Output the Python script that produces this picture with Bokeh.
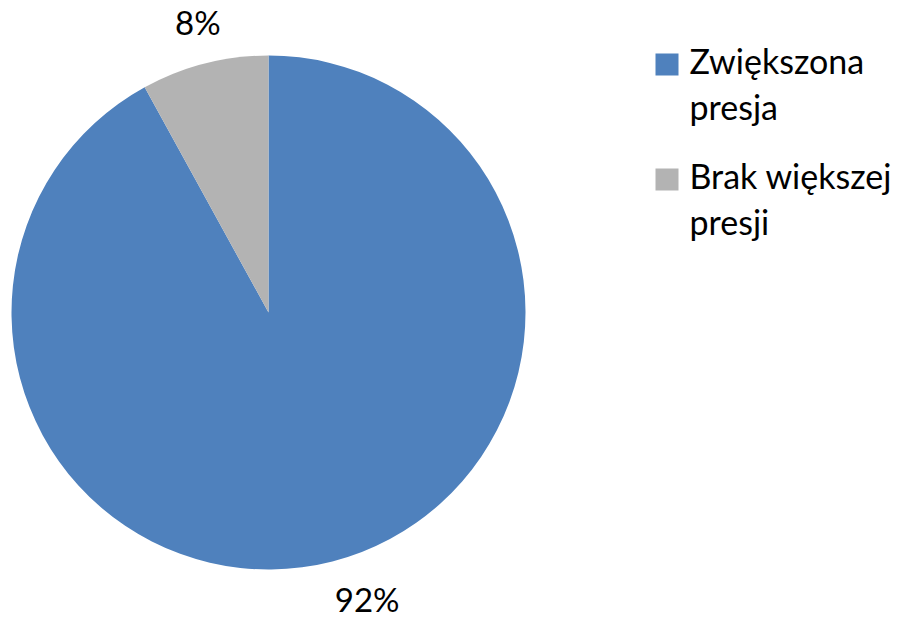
import numpy as np
from bokeh.plotting import figure
from bokeh.models import Range1d, ColumnDataSource
from bokeh.core.properties import value
from bokeh.embed import file_html
from bokeh.resources import INLINE

categories = ["Zwiększona presja", "Brak większej presji"]
legend_lines = [["Zwiększona", "presja"], ["Brak większej", "presji"]]
values = [92, 8]
colors = ["#4F81BD", "#B3B3B3"]
label_texts = ["92%", "8%"]

W, H = 897, 618
FONT = "Lato"
FS = "33px"
LFS = "34px"

p = figure(width=W, height=H, output_backend="svg", toolbar_location=None,
           x_range=Range1d(0, W), y_range=Range1d(0, H), min_border=0,
           frame_width=W, frame_height=H)
p.axis.visible = False
p.grid.visible = False
p.outline_line_color = None
p.background_fill_color = "white"

cx, cy, r = 268, 306, 257
total = sum(values)
fr = np.array(values) / total
# gray slice drawn counterclockwise from top; blue occupies the rest
start_deg = 90 + 360 * fr[1]
ang = [start_deg]
for f in fr:
    ang.append(ang[-1] + 360 * f)
starts = np.radians(ang[:-1])
ends = np.radians(ang[1:])
src = ColumnDataSource(dict(x=[cx] * len(values), y=[cy] * len(values),
                            start=starts, end=ends, color=colors))
p.wedge(x="x", y="y", radius=r, start_angle="start", end_angle="end",
        fill_color="color", line_color=None, source=src)

# data labels outside end
mids = (starts + ends) / 2
label_r = 296
dx_off = [25, 3]
dy_off = [0, 4]
lx = [cx + label_r * np.cos(m) + d for m, d in zip(mids, dx_off)]
ly = [cy + label_r * np.sin(m) + d for m, d in zip(mids, dy_off)]
p.text(x=lx, y=ly, text=label_texts, text_font=value(FONT), text_font_size=FS,
       text_align="center", text_baseline="middle", text_color="black")

# legend
lx0, ly0 = 655, 565
entry_gap = 115
line_gap = 46
for i, (lines, c) in enumerate(zip(legend_lines, colors)):
    y_top = ly0 - i * entry_gap
    p.rect(x=lx0 + 11.5, y=y_top - 11, width=23, height=22, fill_color=c, line_color=None)
    for j, t in enumerate(lines):
        p.text(x=[lx0 + 34], y=[y_top - 7 - j * line_gap], text=[t], text_font=value(FONT),
               text_font_size=LFS, text_align="left", text_baseline="middle", text_color="black")

open("out.html", "w").write(file_html(p, INLINE))
